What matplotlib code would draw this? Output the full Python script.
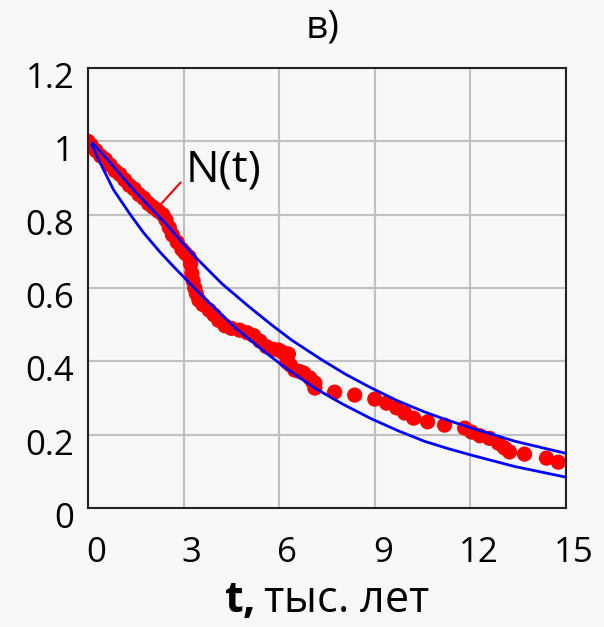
import numpy as np
import matplotlib.pyplot as plt
import matplotlib.transforms as mtransforms

plt.rcParams['font.family'] = ['Open Sans', 'DejaVu Sans']
plt.rcParams['mathtext.fontset'] = 'custom'
plt.rcParams['mathtext.rm'] = 'Open Sans'
plt.rcParams['mathtext.bf'] = 'Open Sans:bold'

# Точки N(t) (красные)
t_dots = [0.0, 0.1, 0.25, 0.4, 0.55, 0.7, 0.85, 1.0, 1.15, 1.3, 1.45, 1.6, 1.75, 1.9,
          2.05, 2.2, 2.35, 2.45, 2.55, 2.65, 2.8, 2.95, 3.05, 3.17, 3.22, 3.26, 3.3,
          3.35, 3.4, 3.48, 3.6, 3.8, 3.95, 4.1, 4.3, 4.5, 4.76, 5.0, 5.2, 5.4, 5.6,
          5.8, 5.98, 6.1, 6.29, 6.24, 6.35, 6.49, 6.65, 6.77, 6.96, 7.05, 7.12, 7.12,
          7.74, 8.37, 9.0, 9.37, 9.69, 9.94, 10.22, 10.66, 11.19, 11.82, 12.04, 12.3,
          12.6, 12.88, 13.07, 13.23, 13.7, 14.39, 14.76]
n_dots = [1.0, 0.99, 0.975, 0.96, 0.95, 0.935, 0.92, 0.91, 0.895, 0.88, 0.87, 0.855,
          0.845, 0.83, 0.82, 0.81, 0.80, 0.785, 0.765, 0.745, 0.725, 0.705, 0.695,
          0.685, 0.665, 0.64, 0.62, 0.60, 0.585, 0.567, 0.555, 0.54, 0.527, 0.512,
          0.497, 0.49, 0.485, 0.478, 0.47, 0.455, 0.44, 0.433, 0.431, 0.425, 0.42,
          0.398, 0.39, 0.376, 0.372, 0.368, 0.355, 0.345, 0.341, 0.327, 0.316, 0.308,
          0.297, 0.286, 0.273, 0.259, 0.245, 0.235, 0.226, 0.218, 0.207, 0.197, 0.19,
          0.177, 0.164, 0.153, 0.147, 0.136, 0.125]

# Синие кривые (верхняя и нижняя)
t_upper = [0.15, 0.6, 1.01, 1.43, 2.06, 2.48, 3.0, 3.42, 4.2, 5.04, 5.77, 6.39, 7.34,
           8.1, 8.9, 9.7, 10.56, 11.3, 12.04, 13.4, 14.95]
n_upper = [0.995, 0.952, 0.910, 0.868, 0.810, 0.772, 0.72, 0.68, 0.612, 0.55, 0.499,
           0.458, 0.404, 0.364, 0.327, 0.293, 0.262, 0.239, 0.218, 0.182, 0.150]
t_lower = [0.12, 0.39, 0.8, 1.33, 1.75, 2.27, 2.69, 3.05, 3.36, 3.78, 4.62, 5.56, 6.08,
           7.12, 8.0, 8.9, 9.75, 10.56, 11.3, 12.04, 13.4, 14.95]
n_lower = [0.99, 0.94, 0.868, 0.800, 0.750, 0.697, 0.658, 0.626, 0.598, 0.562, 0.492,
           0.425, 0.39, 0.327, 0.283, 0.243, 0.21, 0.182, 0.162, 0.144, 0.113, 0.085]

x_ticks = [0, 3, 6, 9, 12, 15]
y_ticks = [0, 0.2, 0.4, 0.6, 0.8, 1.0, 1.2]
y_labels = ['0', '0.2', '0.4', '0.6', '0.8', '1', '1.2']

bg = '#f8f8f8'
fig = plt.figure(figsize=(6.04, 6.27), dpi=100, facecolor=bg)
ax = fig.add_axes([0.1457, 0.1898, 0.7913, 0.7017], facecolor=bg)

ax.grid(True, color='#c0c0c0', linewidth=1.5)
ax.set_axisbelow(True)

ax.plot(t_upper, n_upper, color='#0000ff', linewidth=2, zorder=3)
ax.plot(t_lower, n_lower, color='#0000ff', linewidth=2, zorder=3)
ax.scatter(t_dots, n_dots, s=120, color='#ff0000', edgecolors='none', zorder=2)

ax.set_xlim(0, 15)
ax.set_ylim(0, 1.2)
ax.set_xticks(x_ticks)
ax.set_yticks(y_ticks)
ax.set_yticklabels(y_labels)
ax.tick_params(axis='y', length=0, labelsize=25, colors='black', pad=10)
ax.tick_params(axis='x', length=0, labelsize=25, colors='black', pad=20)
for s in ax.spines.values():
    s.set_color('#222222')
    s.set_linewidth(1.5)

# сдвиг подписей как на оригинале
dx = mtransforms.ScaledTranslation(8 / 100, 0, fig.dpi_scale_trans)
for lbl in ax.get_xticklabels():
    lbl.set_transform(lbl.get_transform() + dx)
dy = mtransforms.ScaledTranslation(0, -7 / 100, fig.dpi_scale_trans)
for lbl in ax.get_yticklabels():
    lbl.set_transform(lbl.get_transform() + dy)

ax.set_title('в)', fontsize=28, pad=22, x=0.49)
ax.set_xlabel(r'$\mathbf{t,}$' + 'тыс. лет', fontsize=31, labelpad=6)

ax.annotate('N(t)', xy=(2.26, 0.826), xytext=(3.05, 0.92), fontsize=32,
            va='center', ha='left',
            arrowprops=dict(arrowstyle='-', color='red', linewidth=1.5,
                            shrinkA=2, shrinkB=0, relpos=(0, 0.35)))

plt.savefig('out.png', dpi=100, facecolor=bg)
